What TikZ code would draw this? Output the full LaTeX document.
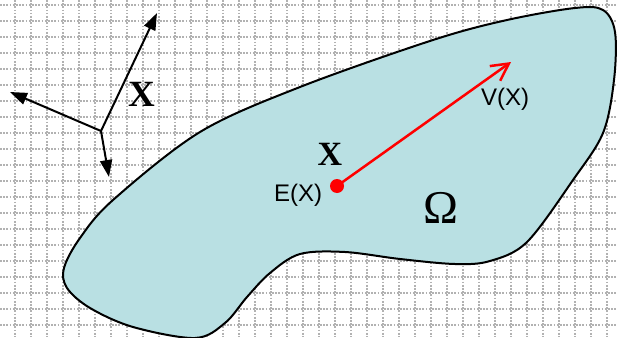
\documentclass[tikz,border=0pt]{standalone}
\usepackage{fontspec}
\setmainfont{Liberation Serif}
\newfontfamily\arialfont{Liberation Sans}
\usetikzlibrary{arrows.meta}
\definecolor{blobfill}{RGB}{185,224,227}
\definecolor{gridgray}{RGB}{178,178,178}
\definecolor{vecred}{RGB}{255,0,0}
\begin{document}
\begin{tikzpicture}[x=1pt,y=-1pt,
  gridline/.style={gridgray,line width=1.3pt,dash pattern=on 1.7pt off 1.5pt},
  blob/.style={draw=black,line width=2pt,fill=blobfill},
  axisarrow/.style={black,line width=2pt,-{Triangle[length=17pt,width=12pt]}},
  redarrow/.style={vecred,line width=2.5pt,-{Straight Barb[length=17pt,width=18pt]}},
  boldx/.style={font=\fontsize{37}{37}\selectfont\bfseries,inner sep=0pt},
  sanslabel/.style={font=\arialfont\fontsize{24}{24}\selectfont,inner sep=0pt}]
\useasboundingbox (0,0) rectangle (617,337);
\foreach \gx in {15,31,...,607} \draw[gridline] (\gx,0) -- (\gx,337);
\foreach \gy in {5,21,...,325} \draw[gridline] (0,\gy) -- (617,\gy);
% region Omega
\draw[blob] plot[smooth cycle, tension=0.55] coordinates {
  (575,8) (603,10) (615,32) (614,80) (603,133) (573,180) (527,242)
  (490,261) (455,264) (400,259) (345,252) (300,254) (270,273) (247,297)
  (225,323) (195,338) (133,327) (90,308) (67,288) (64,268) (80,238)
  (113,200) (200,132) (300,87) (433,40) (507,20)};
% coordinate frame
\coordinate (o) at (101,131);
\coordinate (e1) at (157,13);
\coordinate (e2) at (10,92);
\coordinate (e3) at (109,177);
\draw[axisarrow] (o) -- (e1);
\draw[axisarrow] (o) -- (e2);
\draw[axisarrow] (o) -- (e3);
\node[boldx] (xone) at (142,94.5) {X};
% mean and vector
\node[circle,fill=vecred,inner sep=0pt,minimum size=14pt] (ex) at (337,186) {};
\coordinate (vx) at (511,62);
\draw[redarrow] (ex.center) -- (vx);
\node[boldx,font=\fontsize{34}{34}\selectfont\bfseries] (xtwo) at (330,154.5) {X};
\node[sanslabel] (exlab) at (298,195) {E(X)};
\node[sanslabel] (vxlab) at (505,99) {V(X)};
\node[font=\fontsize{47}{47}\selectfont,inner sep=0pt] (omega) at (441,208) {Ω};
\end{tikzpicture}
\end{document}
